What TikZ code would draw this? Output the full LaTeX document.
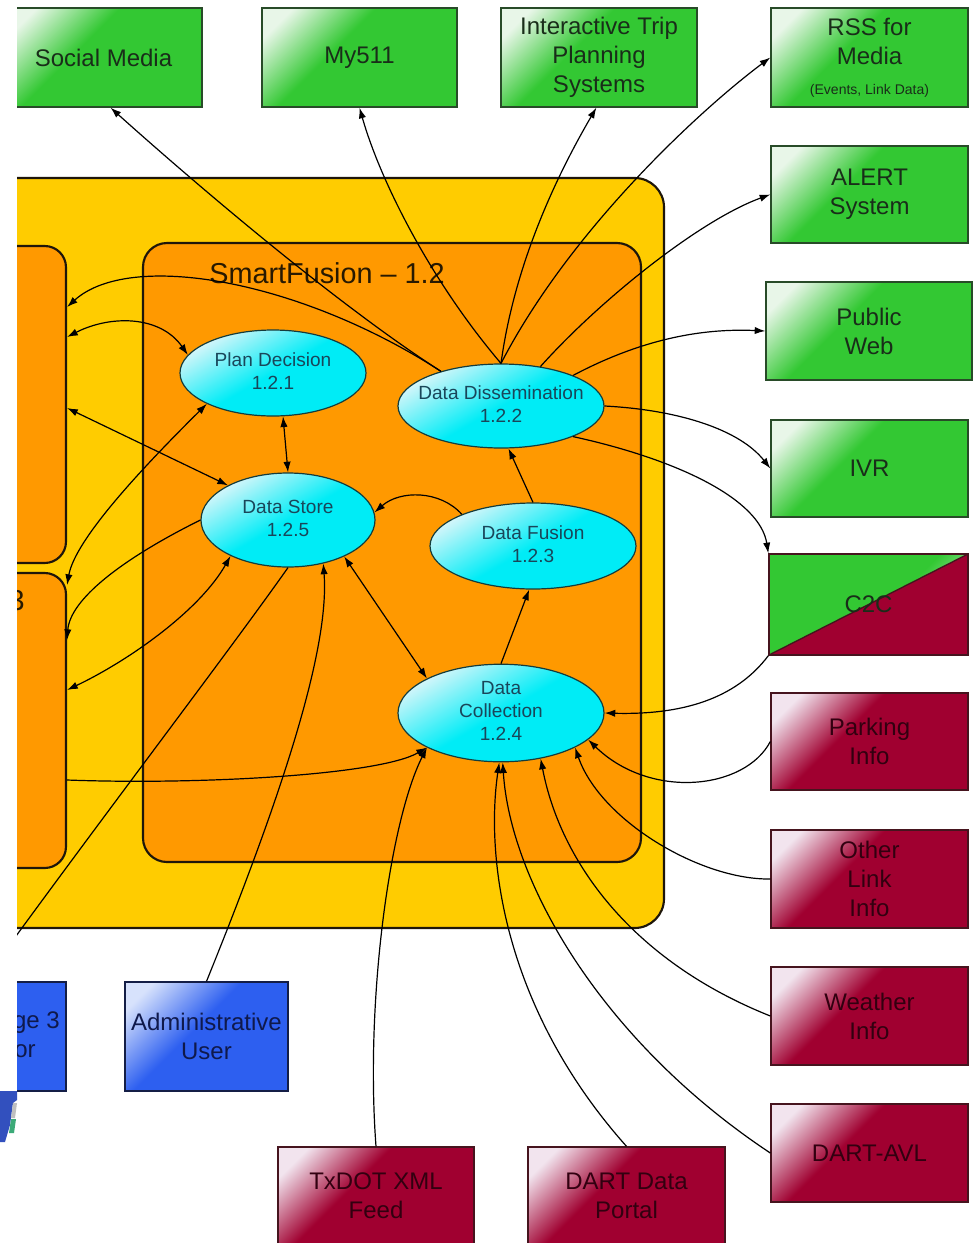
\documentclass[tikz,border=0pt]{standalone}
\usepackage{fontspec}
\setmainfont{Liberation Sans}
\usetikzlibrary{shapes.geometric,arrows.meta}

\definecolor{gbase}{RGB}{51,200,51}
\definecolor{ghl}{RGB}{232,246,232}
\definecolor{gline}{RGB}{40,75,40}
\definecolor{gtext}{RGB}{25,45,25}
\definecolor{rbase}{RGB}{160,0,48}
\definecolor{rhl}{RGB}{242,228,238}
\definecolor{rline}{RGB}{70,20,30}
\definecolor{rtext}{RGB}{50,0,16}
\definecolor{bbase}{RGB}{45,95,240}
\definecolor{bhl}{RGB}{215,226,252}
\definecolor{bline}{RGB}{20,30,70}
\definecolor{btext}{RGB}{15,25,75}
\definecolor{cbase}{RGB}{0,236,246}
\definecolor{chl}{RGB}{215,246,250}
\definecolor{cline}{RGB}{20,60,60}
\definecolor{ctext}{RGB}{25,70,90}
\definecolor{yel}{RGB}{255,204,0}
\definecolor{ora}{RGB}{255,153,0}
\definecolor{frame}{RGB}{30,22,10}
\definecolor{ttext}{RGB}{40,25,0}
\definecolor{logob}{RGB}{50,80,190}
\definecolor{logog}{RGB}{60,170,120}
\definecolor{rmid}{RGB}{190,60,95}

\pgfdeclarehorizontalshading{gshade}{100bp}{color(0bp)=(ghl); color(22bp)=(ghl); color(42bp)=(gbase); color(100bp)=(gbase)}
\pgfdeclarehorizontalshading{rshade}{100bp}{color(0bp)=(rhl); color(22bp)=(rhl); color(42bp)=(rbase); color(100bp)=(rbase)}
\pgfdeclarehorizontalshading{bshade}{100bp}{color(0bp)=(bhl); color(22bp)=(bhl); color(45bp)=(bbase); color(100bp)=(bbase)}
\pgfdeclarehorizontalshading{cshade}{100bp}{color(0bp)=(chl); color(25bp)=(chl); color(50bp)=(cbase); color(100bp)=(cbase)}
\pgfdeclarehorizontalshading{gshadeR}{100bp}{color(0bp)=(gbase); color(55bp)=(gbase); color(78bp)=(ghl); color(100bp)=(ghl)}
\pgfdeclarehorizontalshading{rshadeC}{100bp}{color(0bp)=(rmid); color(35bp)=(rbase); color(100bp)=(rbase)}

\newcommand\elltext[1]{\makebox[0pt]{\begin{tabular}{@{}c@{}}#1\end{tabular}}}

\tikzset{
  conn/.style={draw=black, line width=0.9pt},
  arr/.style={conn, -{Latex[length=8pt,width=5.5pt]}},
  darr/.style={conn, {Latex[length=8pt,width=5.5pt]}-{Latex[length=8pt,width=5.5pt]}},
  xbox/.style={rectangle, inner sep=0pt, align=center, line width=1pt,
    font=\fontsize{18}{21.75}\selectfont},
  gbox/.style={xbox, draw=gline, shading=gshade, shading angle=-45, text=gtext},
  rbox/.style={xbox, draw=rline, shading=rshade, shading angle=-45, text=rtext},
  bbox/.style={xbox, draw=bline, shading=bshade, shading angle=-45, text=btext},
  c2cbox/.style={xbox, draw=rline, text=gtext,
    path picture={
      \shade[shading=gshadeR, shading angle=-45]
        (path picture bounding box.south west) -- (path picture bounding box.north west)
        -- (path picture bounding box.north east) -- cycle;
      \shade[shading=rshadeC, shading angle=-60]
        (path picture bounding box.south west) -- (path picture bounding box.south east)
        -- (path picture bounding box.north east) -- cycle;
      \draw[line width=1pt, rline] (path picture bounding box.south west) -- (path picture bounding box.north east);
    }},
  proc/.style={ellipse, inner sep=0pt, draw=cline, line width=0.9pt,
    shading=cshade, shading angle=-60, text=ctext,
    font=\fontsize{14.3}{17.25}\selectfont},
  cont/.style={rectangle, draw=frame, line width=1.6pt, fill=ora},
  ttl/.style={font=\fontsize{21.6}{26}\selectfont, text=ttext, inner sep=0pt},
}

\begin{document}
\begin{tikzpicture}[x=0.75pt,y=-0.75pt]
\useasboundingbox (0,0) rectangle (973,1243);
\fill[white] (0,0) rectangle (973,1243);

\begin{scope}
\clip (17,0) rectangle (973,1243);

% containers
\node[rectangle, draw=frame, line width=1.6pt, fill=yel, rounded corners=22pt,
  minimum width=543pt, minimum height=562.5pt] (outer) at (302,553) {};
\node[cont, rounded corners=16pt, minimum width=162pt, minimum height=237.75pt] (lbox1) at (-42,404.5) {};
\node[cont, rounded corners=16pt, minimum width=162pt, minimum height=221.25pt] (lbox2) at (-42,720.5) {};
\node[cont, rounded corners=18pt, minimum width=373.5pt, minimum height=464.25pt] (sf) at (392,552.5) {};
\node[ttl] (sftitle) at (327,273) {SmartFusion – 1.2};
\node[ttl, anchor=base east] (l2title) at (25,610) {3};

% processes
\node[proc, minimum width=139.5pt, minimum height=64.5pt] (pd) at (273,373) {\elltext{Plan Decision\\1.2.1}};
\node[proc, minimum width=154.5pt, minimum height=63pt] (dd) at (501,406) {\elltext{Data Dissemination\\1.2.2}};
\node[proc, minimum width=130.5pt, minimum height=70.5pt] (ds) at (288,520) {\elltext{Data Store\\1.2.5}};
\node[proc, minimum width=154.5pt, minimum height=64.5pt] (df) at (533,546) {\elltext{Data Fusion\\1.2.3}};
\node[proc, minimum width=154.5pt, minimum height=69pt] (dc) at (501,713) {\elltext{Data\\Collection\\1.2.4}};

% external boxes
\node[gbox, minimum width=147.75pt, minimum height=74.25pt] (social) at (103.5,57.5) {Social Media};
\node[gbox, minimum width=146.25pt, minimum height=74.25pt] (my511) at (359.5,57.5) {My511};
\node[gbox, minimum width=147pt, minimum height=74.25pt] (trip) at (599,57.5) {Interactive Trip\\Planning\\Systems};
\node[gbox, minimum width=147.75pt, minimum height=74.25pt] (rss) at (869.5,57.5) {RSS for\\Media\\[1pt]{\fontsize{10.5}{12}\selectfont (Events, Link Data)}};
\node[gbox, minimum width=147.75pt, minimum height=72.75pt] (alert) at (869.5,194.5) {ALERT\\System};
\node[gbox, minimum width=154.5pt, minimum height=73.5pt] (web) at (869,331) {Public\\Web};
\node[gbox, minimum width=147.75pt, minimum height=72.75pt] (ivr) at (869.5,468.5) {IVR};
\node[c2cbox, minimum width=149.25pt, minimum height=75.75pt] (c2c) at (868.5,604.5) {C2C};
\node[rbox, minimum width=147.75pt, minimum height=72.75pt] (parking) at (869.5,741.5) {Parking\\Info};
\node[rbox, minimum width=147.75pt, minimum height=73.5pt] (other) at (869.5,879) {Other\\Link\\Info};
\node[rbox, minimum width=147.75pt, minimum height=73.5pt] (weather) at (869.5,1016) {Weather\\Info};
\node[rbox, minimum width=147.75pt, minimum height=73.5pt] (dartavl) at (869.5,1153) {DART-AVL};
\node[rbox, minimum width=147pt, minimum height=73.5pt] (txdot) at (376,1196) {TxDOT XML\\Feed};
\node[rbox, minimum width=147.75pt, minimum height=73.5pt] (portal) at (626.5,1196) {DART Data\\Portal};
\node[bbox, minimum width=122.25pt, minimum height=81.75pt] (admin) at (206.5,1036.5) {Administrative\\User};
\node[bbox, minimum width=124.5pt, minimum height=81.75pt] (ge3) at (-17,1036.5) {};
\node[anchor=base east, inner sep=0pt, text=btext, font=\fontsize{18}{21.75}\selectfont] (ge3a) at (60,1028) {ge 3};
\node[anchor=base east, inner sep=0pt, text=btext, font=\fontsize{18}{21.75}\selectfont] (ge3b) at (36,1057) {or};

% connectors: dissemination outputs
\draw[arr] (dd.150) .. controls (330,300) and (180,170) .. (social.-82.5);
\draw[arr] (dd.north) .. controls (430,280) and (380,180) .. (my511.south);
\draw[arr] (dd.north) .. controls (515,260) and (560,170) .. (trip.-93);
\draw[arr] (dd.north) .. controls (570,230) and (700,110) .. (rss.west);
\draw[arr] (dd.45) .. controls (600,300) and (700,220) .. (alert.west);
\draw[arr] (dd.23) .. controls (640,340) and (700,328) .. (web.west);
\draw[arr] (dd.east) .. controls (680,410) and (740,430) .. (ivr.west);
\draw[arr] (dd.-23) .. controls (680,460) and (760,500) .. (c2c.north west);
\draw[arr] (dd.150) .. controls (300,280) and (130,250) .. (lbox1.east |- 0,307);

% collection inputs
\draw[arr] (c2c.south west) .. controls (735,700) and (680,715) .. (dc.east);
\draw[arr] (parking.west) .. controls (745,790) and (650,800) .. (dc.-17);
\draw[arr] (other.west) .. controls (700,880) and (600,820) .. (dc.-25);
\draw[arr] (weather.west) .. controls (630,960) and (560,860) .. (dc.-49);
\draw[arr] (dartavl.west) .. controls (600,1040) and (510,880) .. (dc.-88);
\draw[arr] (portal.north) .. controls (505,1010) and (485,860) .. (dc.-92);
\draw[arr] (txdot.north) .. controls (365,1000) and (390,820) .. (dc.-155);
\draw[arr] (lbox2.east |- 0,780) .. controls (200,785) and (380,775) .. (dc.-155);

% internal
\draw[arr] (dc.north) -- (df.-95);
\draw[arr] (df.north) -- (dd.-80);
\draw[arr] (df.156) .. controls (440,490) and (400,490) .. (ds.5);
\draw[darr] (pd.-77) -- (ds.north);
\draw[darr] (ds.-33) -- (dc.155);

% store / plan to left boxes
\draw[arr] (admin.north) .. controls (280,800) and (330,650) .. (ds.-51);
\draw[conn] (ds.-90) .. controls (230,650) and (100,820) .. (ge3.north);
\draw[arr] (ds.west) .. controls (120,560) and (70,600) .. (lbox2.east |- 0,640);
\draw[darr] (pd.-155) .. controls (140,470) and (75,540) .. (lbox2.east |- 0,585);
\draw[darr] (ds.-148) .. controls (200,610) and (130,660) .. (lbox2.east |- 0,690);
\draw[darr] (lbox1.east |- 0,408) -- (ds.150);
\draw[darr] (lbox1.east |- 0,337) .. controls (110,315) and (160,315) .. (pd.168);
\end{scope}

% logo fragment at left edge
\fill[logob] (0,1091) -- (17,1091) -- (17,1100) -- (13,1103) -- (10,1125) -- (5,1142) -- (0,1142) -- cycle;
\fill[black!25] (13,1103) -- (17,1103) -- (15,1118) -- (11,1118) -- cycle;
\fill[logog] (11,1119) -- (16,1119) -- (14,1133) -- (9,1133) -- cycle;
\end{tikzpicture}
\end{document}
